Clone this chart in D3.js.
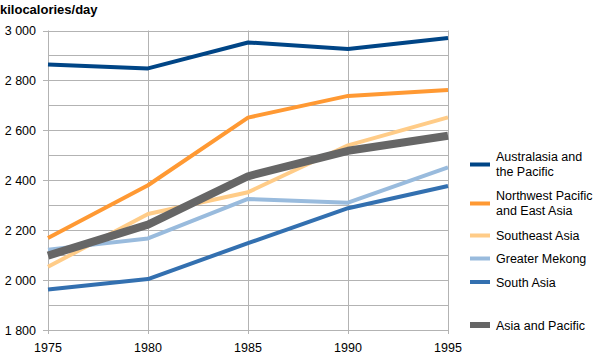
<!DOCTYPE html>
<html><head><meta charset="utf-8">
<script src="https://cdn.jsdelivr.net/npm/d3@7"></script>
<style>body{margin:0;background:#fff}svg{display:block;font-family:"Liberation Sans",Arial,sans-serif}</style>
</head><body>
<svg id="c" width="600" height="357"></svg>
<script>
const years = [1975, 1980, 1985, 1990, 1995];
const yTicks = [1800, 2000, 2200, 2400, 2600, 2800, 3000];
const australasia = [2864, 2848, 2952, 2926, 2970];
const northwestPacific = [2169, 2380, 2651, 2738, 2762];
const southeastAsia = [2053, 2265, 2352, 2540, 2652];
const greaterMekong = [2122, 2167, 2325, 2310, 2452];
const southAsia = [1962, 2004, 2148, 2288, 2377];
const asiaPacific = [2098, 2222, 2416, 2518, 2578];
const seriesNames = ["Australasia and the Pacific", "Northwest Pacific and East Asia", "Southeast Asia", "Greater Mekong", "South Asia", "Asia and Pacific"];
const seriesColors = ["#004586", "#ff9933", "#ffcc88", "#99bbdd", "#3370b0", "#666666"];

const series = [australasia, northwestPacific, southeastAsia, greaterMekong, southAsia, asiaPacific];
const widths = [4, 4, 4, 4, 4, 8];
const legendLines = [["Australasia and", "the Pacific"], ["Northwest Pacific", "and East Asia"], ["Southeast Asia"], ["Greater Mekong"], ["South Asia"], ["Asia and Pacific"]];
const legendY = [164.5, 203.5, 235.5, 258.5, 282, 325];

const svg = d3.select("#c");
const x = d3.scalePoint().domain(years).range([48, 448]);
const y = d3.scaleLinear().domain([1800, 3000]).range([330, 30.5]);

// gridlines
const g = svg.append("g");
d3.range(1800, 3001, 100).forEach(v => {
  g.append("line").attr("x1", 48).attr("x2", 448).attr("y1", Math.round(y(v)) + 0.5).attr("y2", Math.round(y(v)) + 0.5)
    .attr("stroke", "#b3b3b3").attr("stroke-width", 1);
});
years.forEach(v => {
  g.append("line").attr("x1", x(v) + 0.5).attr("x2", x(v) + 0.5).attr("y1", 30.5).attr("y2", 334)
    .attr("stroke", "#b3b3b3").attr("stroke-width", 1);
});
yTicks.forEach(v => {
  g.append("line").attr("x1", 43).attr("x2", 48).attr("y1", Math.round(y(v)) + 0.5).attr("y2", Math.round(y(v)) + 0.5)
    .attr("stroke", "#b3b3b3");
});

// axis labels
const fmt = v => d3.format(",")(v).replace(",", " ");
svg.append("g").selectAll("text").data(yTicks).join("text")
  .attr("x", 36).attr("y", d => y(d) + 4.5).attr("text-anchor", "end")
  .attr("font-size", 12.5).attr("fill", "#000").text(fmt);
svg.append("g").selectAll("text").data(years).join("text")
  .attr("x", d => x(d)).attr("y", 352).attr("text-anchor", "middle")
  .attr("font-size", 12.5).attr("fill", "#000").text(d => d);

svg.append("text").attr("x", 0).attr("y", 14).attr("font-size", 13).attr("font-weight", "bold").text("kilocalories/day");

// lines
const line = d3.line().x((d, i) => x(years[i])).y(d => y(d));
series.forEach((s, i) => {
  svg.append("path").attr("d", line(s)).attr("fill", "none")
    .attr("stroke", seriesColors[i]).attr("stroke-width", widths[i]).attr("stroke-linejoin", "round");
});

// legend
const lg = svg.append("g");
seriesNames.forEach((n, i) => {
  const h = i === 5 ? 6 : 4;
  lg.append("rect").attr("x", 470).attr("y", legendY[i] - h / 2).attr("width", 20).attr("height", h).attr("fill", seriesColors[i]);
  const lines = legendLines[i];
  const t = lg.append("text").attr("font-size", 12.5).attr("fill", "#000");
  lines.forEach((l, j) => {
    const off = lines.length === 2 ? (j === 0 ? -7.5 + 4.5 - 1 : 7.5 + 4.5 - 1) : 4.5;
    t.append("tspan").attr("x", 496).attr("y", legendY[i] + off).text(l);
  });
});
</script>
</body></html>
